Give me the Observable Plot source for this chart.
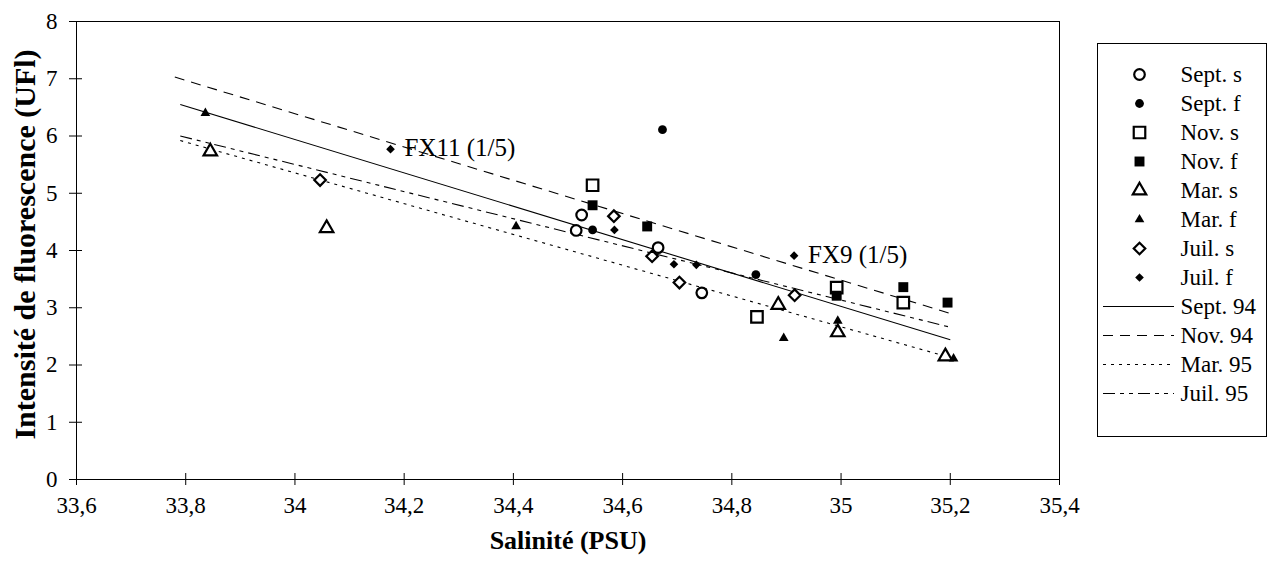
<!DOCTYPE html>
<html><head><meta charset="utf-8">
<script src="https://cdn.jsdelivr.net/npm/d3@7"></script>
<script src="https://cdn.jsdelivr.net/npm/@observablehq/plot@0.6"></script>
<style>
body{margin:0;background:#fff;}
#wrap{position:relative;width:1274px;height:565px;overflow:hidden;}
#legend{position:absolute;left:1097px;top:43px;}
#wrap svg, #wrap svg text { font-family: "Liberation Serif", "Times New Roman", Times, serif !important; }
</style></head><body><div id="wrap"><div id="main"></div><div id="legend"></div></div>
<script>
// ---- Axis ticks & titles ----
const xTicks = [33.6, 33.8, 34, 34.2, 34.4, 34.6, 34.8, 35, 35.2, 35.4];
const xTickLabels = ["33,6","33,8","34","34,2","34,4","34,6","34,8","35","35,2","35,4"];
const yTicks = [0, 1, 2, 3, 4, 5, 6, 7, 8];
const yTickLabels = ["0","1","2","3","4","5","6","7","8"];
const xTitle = "Salinité (PSU)";
const yTitle = "Intensité de fluorescence (UFl)";

// ---- Point series (salinity x, fluorescence y) ----
const seriesNames = ["Sept. s","Sept. f","Nov. s","Nov. f","Mar. s","Mar. f","Juil. s","Juil. f"];
const septS_x = [34.515, 34.525, 34.665, 34.745];
const septS_y = [4.35, 4.62, 4.05, 3.26];
const septF_x = [34.673, 34.545, 34.844];
const septF_y = [6.11, 4.36, 3.58];
const novS_x = [34.545, 34.846, 34.992, 35.114];
const novS_y = [5.14, 2.84, 3.35, 3.09];
const novF_x = [34.545, 34.645, 34.992, 35.114, 35.195];
const novF_y = [4.79, 4.42, 3.21, 3.36, 3.09];
const marS_x = [33.845, 34.058, 34.885, 34.994, 35.191];
const marS_y = [5.73, 4.39, 3.05, 2.57, 2.15];
const marF_x = [33.836, 34.405, 34.895, 34.994, 35.206];
const marF_y = [6.40, 4.42, 2.47, 2.77, 2.11];
const juilS_x = [34.046, 34.584, 34.654, 34.704, 34.915];
const juilS_y = [5.23, 4.60, 3.90, 3.44, 3.22];
const juilF_x = [34.175, 34.585, 34.694, 34.735, 34.914];
const juilF_y = [5.77, 4.36, 3.76, 3.75, 3.91];

// ---- Regression lines ----
const regNames = ["Sept. 94","Nov. 94","Mar. 95","Juil. 95"];
const regX1 = [33.79, 33.78, 33.79, 33.79];
const regY1 = [6.55, 7.03, 5.92, 6.00];
const regX2 = [35.2, 35.2, 35.2, 35.2];
const regY2 = [2.44, 2.90, 2.13, 2.66];

// ---- Annotations ----
const annLabels = ["FX11 (1/5)", "FX9 (1/5)"];
const annX = [34.175, 34.914];
const annY = [5.77, 3.91];

// ---- build tables ----
const seriesX = [septS_x, septF_x, novS_x, novF_x, marS_x, marF_x, juilS_x, juilF_x];
const seriesY = [septS_y, septF_y, novS_y, novF_y, marS_y, marF_y, juilS_y, juilF_y];
const points = seriesNames.map((name, k) => seriesX[k].map((x, i) => ({series: name, x, y: seriesY[k][i]})));
const regs = regNames.map((name, i) => ({name, x1: regX1[i], y1: regY1[i], x2: regX2[i], y2: regY2[i]}));
const anns = annLabels.map((label, i) => ({label, x: annX[i], y: annY[i]}));

// styles
const markerStyle = {
  "Sept. s": {symbol: "circle", open: true, r: 5.3},
  "Sept. f": {symbol: "circle", open: false, r: 4.4},
  "Nov. s": {symbol: "square", open: true, r: 6.5},
  "Nov. f": {symbol: "square", open: false, r: 5.6},
  "Mar. s": {symbol: "triangle", open: true, r: 5.0},
  "Mar. f": {symbol: "triangle", open: false, r: 3.6},
  "Juil. s": {symbol: "diamond2", open: true, r: 5.2},
  "Juil. f": {symbol: "diamond2", open: false, r: 3.9}
};
const lineStyle = {
  "Sept. 94": {dash: null},
  "Nov. 94": {dash: "10,7"},
  "Mar. 95": {dash: "3,5"},
  "Juil. 95": {dash: "12,5,4,5,4,5"}
};
function dotMark(data, name, extra = {}) {
  const s = markerStyle[name];
  return Plot.dot(data, {
    ...extra,
    symbol: () => s.symbol, r: s.r,
    fill: s.open ? "white" : "black",
    stroke: s.open ? "black" : "none",
    strokeWidth: s.open ? 2.2 : 0
  });
}

const font = "Liberation Serif, Times New Roman, serif";

const main = Plot.plot({
  width: 1274, height: 565,
  marginLeft: 76, marginRight: 215, marginTop: 21, marginBottom: 86,
  style: {fontFamily: font, fontSize: "23px", color: "black", background: "white"},
  x: {domain: [33.6, 35.4], label: null},
  y: {domain: [0, 8], label: null},
  symbol: {type: "identity"},
  marks: [
    Plot.frame({stroke: "black", strokeWidth: 1}),
    ...regs.map(r => Plot.link([r], {
      x1: "x1", y1: "y1", x2: "x2", y2: "y2",
      stroke: "black", strokeWidth: 1.1,
      strokeDasharray: lineStyle[r.name].dash
    })),
    ...seriesNames.map((name, k) => dotMark(points[k], name, {x: "x", y: "y"})),
    Plot.text(anns, {x: "x", y: "y", text: "label", textAnchor: "start", dx: 14, dy: -1, fontSize: 25, fill: "black"}),
    Plot.axisX({ticks: xTicks, tickFormat: (d, i) => xTickLabels[i], tickSize: 12, dy: -6, tickPadding: 11, label: null, stroke: "black"}),
    Plot.axisY({ticks: yTicks, tickFormat: (d, i) => yTickLabels[i], tickSize: 13, dx: 6, tickPadding: 12, label: null, stroke: "black"}),
    Plot.text([xTitle], {frameAnchor: "bottom", dy: 69, text: d => d, fontWeight: "bold", fontSize: 26, fill: "black"}),
    Plot.text([yTitle], {frameAnchor: "left", rotate: -90, dx: -51, dy: -6, text: d => d, fontWeight: "bold", fontSize: 30, fill: "black", textAnchor: "middle"})
  ]
});
document.getElementById("main").appendChild(main);

// ---- Legend ----
const legendLabels = [...seriesNames, ...regNames];
const legend = Plot.plot({
  width: 169, height: 393,
  margin: 0,
  style: {fontFamily: font, fontSize: "23px", color: "black", background: "white", overflow: "visible"},
  x: {axis: null, domain: [0, 1]},
  y: {axis: null, type: "point", domain: legendLabels, range: [15, 366]},
  symbol: {type: "identity"},
  marks: [
    Plot.frame({stroke: "black", strokeWidth: 1}),
    ...seriesNames.map(name => dotMark([name], name, {y: d => d, frameAnchor: "left", dx: 42})),
    ...regNames.map(name => Plot.ruleY([name], {y: d => d, insetLeft: 6, insetRight: 92, stroke: "black", strokeWidth: 1.1, strokeDasharray: lineStyle[name].dash})),
    Plot.text(legendLabels, {y: d => d, text: d => d, frameAnchor: "left", dx: 83, textAnchor: "start", fill: "black"})
  ]
});
document.getElementById("legend").appendChild(legend);
</script>
</body></html>
